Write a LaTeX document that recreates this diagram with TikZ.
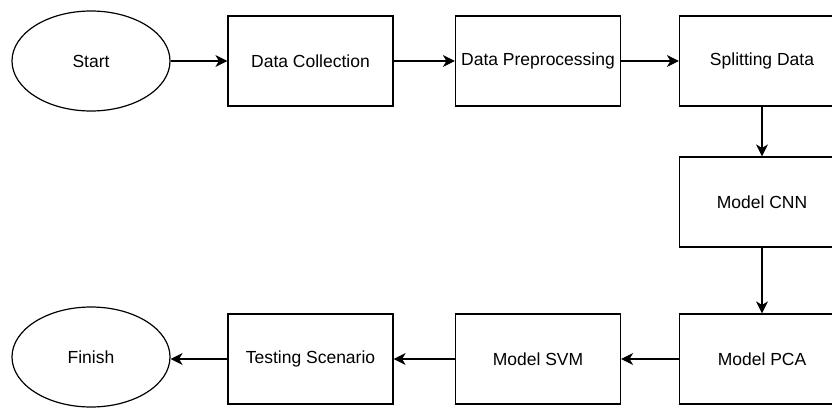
\documentclass[tikz,border=0pt]{standalone}
\usepackage{fontspec}
\setmainfont{Liberation Sans}
\usetikzlibrary{arrows.meta,shapes.geometric}
\begin{document}
\begin{tikzpicture}[x=1pt,y=-1pt,
  line width=1.2pt,
  stepbox/.style={draw, rectangle, minimum width=165pt, minimum height=90pt, inner sep=0pt, font=\fontsize{17.5}{20}\selectfont},
  terminal/.style={draw, ellipse, minimum width=158pt, minimum height=100pt, inner sep=0pt, font=\fontsize{17.5}{20}\selectfont},
  flow/.style={-{Stealth[length=12pt,width=12pt,inset=3.5pt]}}
]
\clip (0,0) rectangle (832,410);
\fill[white] (0,0) rectangle (832,410);
% upper row
\node[terminal] (start) at (91,61) {Start};
\node[stepbox] (collect) at (310.5,61) {Data Collection};
\node[stepbox] (prep) at (538,61) {Data Preprocessing};
\node[stepbox] (split) at (762,61) {Splitting Data};
% right column
\node[stepbox] (cnn) at (762,202) {Model CNN};
\node[stepbox] (pca) at (762,359) {Model PCA};
% lower row
\node[stepbox] (svm) at (538,359) {Model SVM};
\node[stepbox] (test) at (310.5,359) {Testing Scenario};
\node[terminal] (finish) at (91,357) {Finish};
% connectors
\draw[flow] (start) -- (collect);
\draw[flow] (collect) -- (prep);
\draw[flow] (prep) -- (split);
\draw[flow] (split) -- (cnn);
\draw[flow] (cnn) -- (pca);
\draw[flow] (pca) -- (svm);
\draw[flow] (svm) -- (test);
\draw[flow] (test.west) -- (finish.east |- test.west);
\end{tikzpicture}
\end{document}
